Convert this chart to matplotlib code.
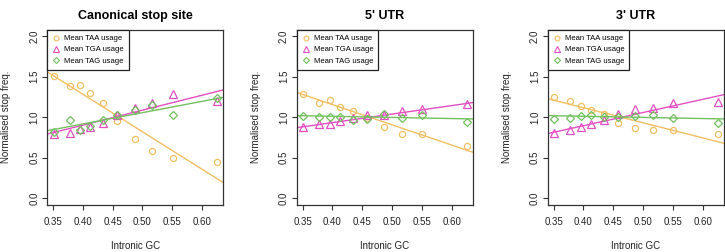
import numpy as np
import matplotlib
matplotlib.use("Agg")
import matplotlib.pyplot as plt
from matplotlib.lines import Line2D

plt.rcParams['font.family'] = ['Liberation Sans', 'DejaVu Sans']

# ---- data ----
intronic_gc = [0.351, 0.378, 0.396, 0.413, 0.434, 0.458, 0.487, 0.516, 0.551, 0.625]

panel_titles = ["Canonical stop site", "5' UTR", "3' UTR"]

canonical_taa = [1.51, 1.38, 1.39, 1.30, 1.17, 0.95, 0.73, 0.58, 0.49, 0.45]
canonical_tga = [0.79, 0.80, 0.85, 0.88, 0.93, 1.02, 1.11, 1.17, 1.28, 1.20]
canonical_tag = [0.82, 0.96, 0.84, 0.89, 0.96, 1.02, 1.09, 1.15, 1.03, 1.24]

utr5_taa = [1.28, 1.18, 1.21, 1.125, 1.07, 0.985, 0.875, 0.79, 0.79, 0.64]
utr5_tga = [0.875, 0.92, 0.915, 0.95, 0.99, 1.02, 1.03, 1.08, 1.10, 1.16]
utr5_tag = [1.01, 1.00, 1.005, 1.005, 0.965, 0.98, 1.035, 0.99, 1.02, 0.945]

utr3_taa = [1.25, 1.20, 1.14, 1.085, 1.035, 0.93, 0.86, 0.835, 0.835, 0.79]
utr3_tga = [0.81, 0.84, 0.88, 0.915, 0.965, 1.04, 1.10, 1.115, 1.17, 1.19]
utr3_tag = [0.98, 0.99, 1.015, 1.02, 1.005, 1.00, 1.015, 1.02, 0.995, 0.93]

# regression lines (intercept, slope)
canonical_fits = [(3.132, -4.624), (0.163, 1.844), (0.357, 1.395)]
utr5_fits = [(2.152, -2.494), (0.513, 1.048), (1.066, -0.1395)]
utr3_fits = [(1.859, -1.858), (0.245, 1.623), (1.066, -0.1395)]

series_labels = ["Mean TAA usage", "Mean TGA usage", "Mean TAG usage"]
x_ticks = [0.35, 0.40, 0.45, 0.50, 0.55, 0.60]
y_ticks = [0.0, 0.5, 1.0, 1.5, 2.0]

panels = [
    (canonical_taa, canonical_tga, canonical_tag),
    (utr5_taa, utr5_tga, utr5_tag),
    (utr3_taa, utr3_tga, utr3_tag),
]
fits = [canonical_fits, utr5_fits, utr3_fits]

# ---- styling ----
colors = ['#F2BE63', '#E34FC3', '#72C05F']
markers = ['o', '^', 'D']
msizes = [4.4, 5.2, 3.8]

W, H = 725, 252
fig = plt.figure(figsize=(W / 100, H / 100), dpi=100)

lefts = [47.0, 296.7, 547.7]
ax_w = 176.4
top, bottom = 29.5, 204.7

x = np.array(intronic_gc)
span = x.max() - x.min()
xlim = (x.min() - 0.04 * span, x.max() + 0.04 * span)
ylim = (-0.08, 2.08)

for i, (title, series, fit) in enumerate(zip(panel_titles, panels, fits)):
    ax = fig.add_axes([lefts[i] / W, (H - bottom) / H, ax_w / W, (bottom - top) / H])
    for vals, (b0, b1), c, m, ms in zip(series, fit, colors, markers, msizes):
        y = np.array(vals)
        ax.plot(x, y, linestyle='none', marker=m, markersize=ms,
                markerfacecolor='none', markeredgecolor=c, markeredgewidth=0.9)
        xs = np.array(xlim)
        ax.plot(xs, b0 + b1 * xs, color=c, linewidth=1.0)
    ax.set_xlim(*xlim)
    ax.set_ylim(*ylim)
    ax.set_xticks(x_ticks)
    ax.set_xticklabels([f"{t:.2f}" for t in x_ticks])
    ax.set_yticks(y_ticks)
    ax.set_yticklabels([f"{t:.1f}" for t in y_ticks], rotation=90, va='center')
    ax.tick_params(axis='both', direction='out', length=3.6, width=0.8,
                   labelsize=7, color='#333333', labelcolor='#222222')
    ax.tick_params(axis='x', pad=5)
    ax.tick_params(axis='y', pad=2)
    for sp in ax.spines.values():
        sp.set_linewidth(0.9)
        sp.set_color('#333333')
    ax.set_title(title, fontsize=9, fontweight='bold', pad=7.5)
    ax.set_xlabel("Intronic GC", fontsize=7, labelpad=10.5, color='#222222')
    ax.set_ylabel("Normalised stop freq.", fontsize=7, labelpad=13, color='#222222')

    handles = [Line2D([], [], linestyle='none', marker=m, markersize=ms * 0.8,
                      markerfacecolor='none', markeredgecolor=c, markeredgewidth=0.8)
               for c, m, ms in zip(colors, markers, msizes)]
    leg = ax.legend(handles, series_labels, loc='upper left', fontsize=5.5,
                    frameon=True, fancybox=False, framealpha=1, edgecolor='#222222',
                    borderaxespad=0, handlelength=1.0, handletextpad=0.5,
                    labelspacing=0.5, borderpad=0.7)
    leg.get_frame().set_linewidth(0.9)

fig.savefig("out.png", dpi=100)
